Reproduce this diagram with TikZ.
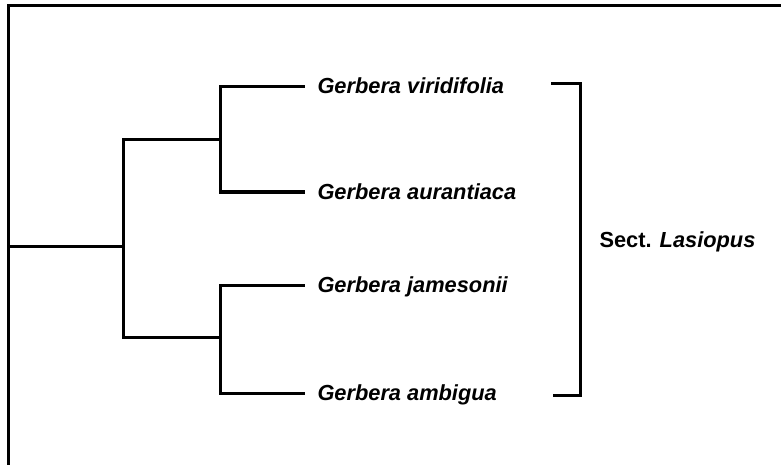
\documentclass[tikz,border=0pt]{standalone}
\usepackage{fontspec}
\setmainfont{Liberation Sans}
\usetikzlibrary{positioning}

\begin{document}
\begin{tikzpicture}[x=1pt, y=-1pt, line width=3pt,
    taxon/.style={anchor=west, inner sep=0pt, text height=16pt, text depth=2pt,
                  font=\bfseries\itshape\fontsize{21.8}{26}\selectfont}]
    \useasboundingbox (0,0) rectangle (781,465);

    % Frame
    \draw (8,465) -- (8,6) -- (781,6);

    % Taxa
    \node[taxon] (viri) at (316,87) {Gerbera viridifolia};
    \node[taxon] (aura) at (316,192) {Gerbera aurantiaca};
    \node[taxon] (jame) at (316,285) {Gerbera jamesonii};
    \node[taxon] (ambi) at (316,393) {Gerbera ambigua};

    % Internal nodes
    \coordinate (root) at (8,246);
    \coordinate (split) at (123,246);
    \coordinate (upper) at (220,140);
    \coordinate (lower) at (220,337);

    \draw (root) -- (split);
    \draw (upper) -| (split) |- (lower);

    \draw (upper) |- ([xshift=-11pt]viri.west);
    \draw (upper) |- ([xshift=-11pt]aura.west);
    \draw (lower) |- ([xshift=-11pt]jame.west);
    \draw (lower) |- ([xshift=-11pt]ambi.west);

    % Section bracket
    \coordinate (brtop) at (551,84);
    \coordinate (brbot) at (553,395);
    \draw (brtop) -- ++(29,0) |- (brbot);
    \node[taxon, font=\bfseries\fontsize{21.8}{26}\selectfont] (sect) at (598,240) {Sect. \textit{Lasiopus}};
\end{tikzpicture}
\end{document}
